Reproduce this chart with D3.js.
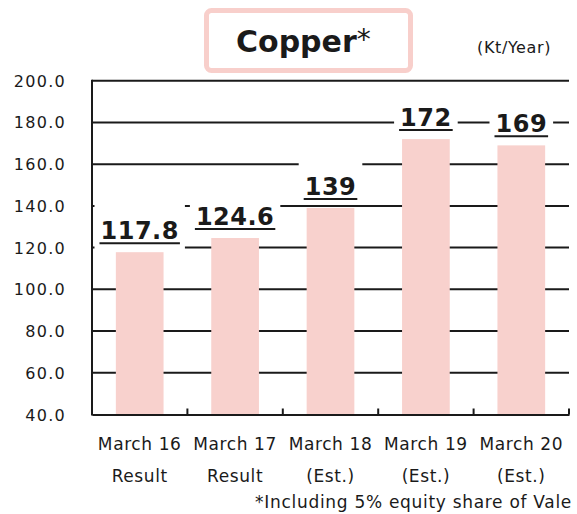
<!DOCTYPE html>
<html>
<head>
<meta charset="utf-8">
<script src="https://cdn.jsdelivr.net/npm/d3@7"></script>
<style>
  body { margin: 0; background: #fff; }
  text { font-family: "DejaVu Sans", Verdana, sans-serif; fill: #1a1a1a; }
</style>
</head>
<body>
<div id="chart"></div>
<script>
// chart data
const periods = ["March 16", "March 17", "March 18", "March 19", "March 20"];
const periodNotes = ["Result", "Result", "(Est.)", "(Est.)", "(Est.)"];
const copperValues = [117.8, 124.6, 139, 172, 169];
const valueLabels = ["117.8", "124.6", "139", "172", "169"];
const yTicks = [40, 60, 80, 100, 120, 140, 160, 180, 200];

const svgWidth = 577;
const svgHeight = 514;

const svg = d3.select("#chart")
  .append("svg")
  .attr("width", svgWidth)
  .attr("height", svgHeight);

// plot area
const plotLeft = 92, plotRight = 569, plotTop = 80.7, plotBottom = 414.5;

const x = d3.scaleBand()
  .domain(periods)
  .range([plotLeft, plotRight])
  .paddingInner(0.5)
  .paddingOuter(0.25);

const y = d3.scaleLinear()
  .domain([40, 200])
  .range([plotBottom, plotTop]);

// gridlines
svg.append("g")
  .selectAll("line")
  .data(yTicks.filter(d => d > 40))
  .enter()
  .append("line")
  .attr("x1", plotLeft)
  .attr("x2", plotRight)
  .attr("y1", d => y(d))
  .attr("y2", d => y(d))
  .attr("stroke", "#1a1a1a")
  .attr("stroke-width", 2);

// y tick labels
svg.append("g")
  .selectAll("text")
  .data(yTicks)
  .enter()
  .append("text")
  .attr("x", 66)
  .attr("y", d => y(d) + 6)
  .attr("text-anchor", "end")
  .attr("font-size", 16)
  .attr("letter-spacing", 1.3)
  .text(d => d.toFixed(1));

// bars
svg.append("g")
  .selectAll("rect")
  .data(copperValues)
  .enter()
  .append("rect")
  .attr("x", (d, i) => x(periods[i]))
  .attr("width", x.bandwidth())
  .attr("y", d => y(d))
  .attr("height", d => y(40) - y(d))
  .attr("fill", "#f8d1cd");

// axes lines
svg.append("line")
  .attr("x1", plotLeft).attr("x2", plotLeft)
  .attr("y1", plotTop - 1).attr("y2", plotBottom + 1)
  .attr("stroke", "#1a1a1a").attr("stroke-width", 2);

const bottomAxis = d3.axisBottom(x).tickSize(0).tickFormat("");
svg.append("g")
  .attr("transform", `translate(0, ${plotBottom})`)
  .call(bottomAxis)
  .call(g => g.select(".domain").attr("stroke", "#1a1a1a").attr("stroke-width", 2));

// category boundary ticks pointing up
svg.append("g")
  .selectAll("line")
  .data(periods)
  .enter()
  .append("line")
  .attr("x1", d => x(d) + x.bandwidth() + x.step() * 0.25)
  .attr("x2", d => x(d) + x.bandwidth() + x.step() * 0.25)
  .attr("y1", plotBottom - 6)
  .attr("y2", plotBottom)
  .attr("stroke", "#1a1a1a")
  .attr("stroke-width", 2);

// value labels with white box
const labels = svg.append("g")
  .selectAll("g")
  .data(copperValues)
  .enter()
  .append("g")
  .attr("transform", (d, i) => `translate(${x(periods[i]) + x.bandwidth() / 2}, ${y(d)})`);

labels.each(function (d, i) {
  const g = d3.select(this);
  const t = g.append("text")
    .attr("y", -13)
    .attr("text-anchor", "middle")
    .attr("font-size", 24)
    .attr("font-weight", "bold")
    .attr("letter-spacing", 0.5)
    .text(valueLabels[i]);
  const w = t.node().getComputedTextLength();
  g.insert("rect", "text")
    .attr("x", -w / 2 - 6)
    .attr("y", -55)
    .attr("width", w + 12)
    .attr("height", 52)
    .attr("fill", "#fff");
  g.append("line")
    .attr("x1", -w / 2 - 1)
    .attr("x2", w / 2 + 1)
    .attr("y1", -9)
    .attr("y2", -9)
    .attr("stroke", "#1a1a1a")
    .attr("stroke-width", 2);
});

// x labels
const xLabels = svg.append("g")
  .selectAll("text")
  .data(periods)
  .enter()
  .append("text")
  .attr("x", d => x(d) + x.bandwidth() / 2)
  .attr("text-anchor", "middle")
  .attr("font-size", 17)
  .attr("letter-spacing", 0.6);

xLabels.append("tspan")
  .attr("x", d => x(d) + x.bandwidth() / 2)
  .attr("y", 450)
  .text(d => d);

xLabels.append("tspan")
  .attr("x", d => x(d) + x.bandwidth() / 2)
  .attr("y", 481.5)
  .text((d, i) => periodNotes[i]);

// footnote
svg.append("text")
  .attr("x", 572)
  .attr("y", 508)
  .attr("text-anchor", "end")
  .attr("font-size", 17)
  .attr("letter-spacing", 0.7)
  .text("*Including 5% equity share of Vale");

// title box
svg.append("rect")
  .attr("x", 206.5)
  .attr("y", 10.5)
  .attr("width", 204)
  .attr("height", 60)
  .attr("rx", 5)
  .attr("fill", "#fff")
  .attr("stroke", "#f8cfcb")
  .attr("stroke-width", 5);

const title = svg.append("text")
  .attr("x", 236)
  .attr("y", 52)
  .attr("font-size", 30)
  .attr("font-weight", "bold")
  .text("Copper");
title.append("tspan")
  .attr("font-size", 28)
  .attr("font-weight", "normal")
  .attr("dy", -3)
  .text("*");

// unit
svg.append("text")
  .attr("x", 551)
  .attr("y", 53)
  .attr("text-anchor", "end")
  .attr("font-size", 16)
  .attr("letter-spacing", 0.6)
  .text("(Kt/Year)");
</script>
</body>
</html>
